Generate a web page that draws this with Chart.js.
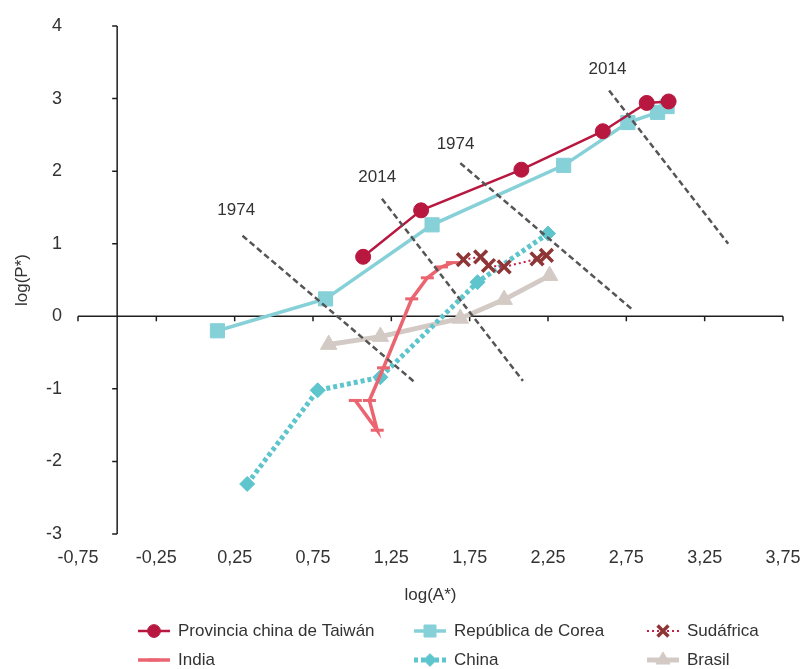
<!DOCTYPE html>
<html><head><meta charset="utf-8">
<script src="https://cdn.jsdelivr.net/npm/chart.js@4.4.1/dist/chart.umd.min.js"></script>
<style>html,body{margin:0;padding:0;background:#fff}#wrap{width:802px;height:669px}</style>
</head><body><div id="wrap"><canvas id="c" width="802" height="669"></canvas></div>
<script>
// ---- data ----
const xTickLabels = ['-0,75','-0,25','0,25','0,75','1,25','1,75','2,25','2,75','3,25','3,75'];
const yTickLabels = ['-3','-2','-1','0','1','2','3','4'];
const seriesNames = ['Provincia china de Taiwán','República de Corea','Sudáfrica','India','China','Brasil'];

const taiwanX = [1.07, 1.44, 2.08, 2.60, 2.88, 3.02];
const taiwanY = [0.82, 1.46, 2.02, 2.55, 2.94, 2.96];
const koreaX = [0.14, 0.83, 1.51, 2.35, 2.76, 2.95, 3.01];
const koreaY = [-0.20, 0.24, 1.26, 2.08, 2.67, 2.81, 2.89];
const sudafricaX = [1.71, 1.82, 1.87, 1.97, 2.18, 2.24];
const sudafricaY = [0.78, 0.82, 0.70, 0.68, 0.79, 0.84];
const indiaX = [1.02, 1.16, 1.11, 1.20, 1.38, 1.48, 1.57, 1.64];
const indiaY = [-1.16, -1.57, -1.16, -0.71, 0.24, 0.53, 0.68, 0.74];
const chinaX = [0.33, 0.78, 1.18, 1.80, 2.25];
const chinaY = [-2.31, -1.02, -0.84, 0.47, 1.14];
const brasilX = [0.85, 1.18, 1.69, 1.97, 2.26];
const brasilY = [-0.39, -0.28, -0.03, 0.23, 0.56];

const refLinesX = [[0.30, 1.40], [1.19, 2.09], [1.69, 2.79], [2.64, 3.40]];
const refLinesY = [[1.11, -0.91], [1.62, -0.89], [2.11, 0.09], [3.11, 1.00]];
const refLabels = ['1974', '2014', '1974', '2014'];
const refLabelX = [0.26, 1.16, 1.66, 2.63];
const refLabelY = [1.46, 1.92, 2.37, 3.41];

// ---- helpers ----
const FONT = "'Liberation Sans', Arial, sans-serif";
const TXT = '#333333';
const pts = (xs, ys) => xs.map((v, i) => ({x: v, y: ys[i]}));
const parseNum = s => parseFloat(s.replace(',', '.'));

const seriesDefs = [
  {name: seriesNames[0], data: pts(taiwanX, taiwanY), color: '#b8173f', pbg: '#b8173f', pbc: '#b8173f',
   width: 2.5, dash: [], style: 'circle', radius: 7.5, pbw: 1, order: 1},
  {name: seriesNames[1], data: pts(koreaX, koreaY), color: '#86d0d8', pbg: '#86d0d8', pbc: '#86d0d8',
   width: 3.5, dash: [], style: 'rect', radius: 10, pbw: 1, order: 2},
  {name: seriesNames[2], data: pts(sudafricaX, sudafricaY), color: '#c41e46', pbg: '#8e3535', pbc: '#8e3535',
   width: 2, dash: [2, 3], style: 'crossRot', radius: 9, pbw: 3.5, order: 3},
  {name: seriesNames[3], data: pts(indiaX, indiaY), color: '#ea6570', pbg: '#ea6570', pbc: '#ea6570',
   width: 3.5, dash: [], style: 'line', radius: 6.5, pbw: 3, order: 4},
  {name: seriesNames[4], data: pts(chinaX, chinaY), color: '#5ec5cd', pbg: '#5ec5cd', pbc: '#5ec5cd',
   width: 5, dash: [4, 3], style: 'rectRot', radius: 7.5, pbw: 1, order: 5},
  {name: seriesNames[5], data: pts(brasilX, brasilY), color: '#d3cac5', pbg: '#d3cac5', pbc: '#d3cac5',
   width: 5, dash: [], style: 'triangle', radius: 9.5, pbw: 1, order: 6}
];

const datasets = seriesDefs.map(s => ({
  label: s.name, data: s.data, showLine: true, tension: 0,
  borderColor: s.color, borderWidth: s.width, borderDash: s.dash, borderCapStyle: 'butt',
  pointStyle: s.style, pointRadius: s.radius, pointHoverRadius: s.radius,
  pointBackgroundColor: s.pbg, pointBorderColor: s.pbc, pointBorderWidth: s.pbw,
  order: s.order
}));
refLinesX.forEach((xs, i) => datasets.push({
  label: 'ref' + i, data: pts(xs, refLinesY[i]), showLine: true,
  borderColor: '#555555', borderWidth: 2.5, borderDash: [6, 3.5], borderCapStyle: 'butt',
  pointRadius: 0, pointHoverRadius: 0, order: 0
}));

// axis lines crossing at x=-0.5 / y=0
const axesPlugin = {
  id: 'axesLines',
  beforeDatasetsDraw(chart) {
    const {ctx, chartArea} = chart;
    const xs = chart.scales.x, ys = chart.scales.y;
    const y0 = ys.getPixelForValue(0);
    const xc = xs.getPixelForValue(-0.5);
    ctx.save();
    ctx.strokeStyle = '#1e1e1e';
    ctx.lineWidth = 1.5;
    ctx.beginPath();
    ctx.moveTo(chartArea.left, y0); ctx.lineTo(chartArea.right, y0);
    xs.ticks.forEach(t => { const p = xs.getPixelForValue(t.value); ctx.moveTo(p, y0); ctx.lineTo(p, y0 + 5); });
    ctx.moveTo(xc, chartArea.top); ctx.lineTo(xc, chartArea.bottom);
    ys.ticks.forEach(t => { const p = ys.getPixelForValue(t.value); ctx.moveTo(xc - 5, p); ctx.lineTo(xc, p); });
    ctx.stroke();
    ctx.restore();
  }
};

// year labels on the dashed lines
const labelPlugin = {
  id: 'yearLabels',
  afterDatasetsDraw(chart) {
    const {ctx} = chart;
    const xs = chart.scales.x, ys = chart.scales.y;
    ctx.save();
    ctx.font = '17px ' + FONT;
    ctx.fillStyle = TXT;
    ctx.textAlign = 'center';
    ctx.textBaseline = 'middle';
    refLabels.forEach((t, i) => ctx.fillText(t, xs.getPixelForValue(refLabelX[i]), ys.getPixelForValue(refLabelY[i])));
    ctx.restore();
  }
};

// three-column legend below the chart
const legendPlugin = {
  id: 'colLegend',
  afterDraw(chart) {
    const {ctx} = chart;
    const colX = [138, 414, 647];
    const rowY = [631, 660];
    const mw = 32;
    ctx.save();
    seriesDefs.forEach((s, i) => {
      const mx = colX[i % 3], my = rowY[Math.floor(i / 3)];
      ctx.beginPath();
      ctx.setLineDash(s.dash);
      ctx.lineCap = 'butt';
      ctx.strokeStyle = s.color;
      ctx.lineWidth = s.width;
      ctx.moveTo(mx, my); ctx.lineTo(mx + mw, my);
      ctx.stroke();
      ctx.setLineDash([]);
      ctx.fillStyle = s.pbg;
      ctx.strokeStyle = s.pbc;
      ctx.lineWidth = s.pbw;
      const opts = {pointStyle: s.style, radius: s.radius * 0.85, borderWidth: s.pbw, rotation: 0};
      if (Chart.helpers && Chart.helpers.drawPoint) {
        Chart.helpers.drawPoint(ctx, opts, mx + mw / 2, my);
      }
      ctx.fillStyle = TXT;
      ctx.font = '17px ' + FONT;
      ctx.textAlign = 'left';
      ctx.textBaseline = 'middle';
      ctx.fillText(s.name, mx + mw + 8, my);
    });
    ctx.restore();
  }
};

new Chart(document.getElementById('c'), {
  type: 'scatter',
  data: {datasets},
  options: {
    responsive: false,
    animation: false,
    devicePixelRatio: 1,
    layout: {padding: {top: 26, right: 19, left: 0, bottom: 0}},
    plugins: {legend: {display: false}, tooltip: {enabled: false}},
    scales: {
      x: {
        type: 'linear', min: -0.75, max: 3.75,
        grid: {display: false, drawTicks: false},
        border: {display: false},
        afterBuildTicks: s => { s.ticks = xTickLabels.map(l => ({value: parseNum(l)})); },
        afterFit: s => { s.height = 135; s.paddingLeft = 0; s.paddingRight = 0; },
        ticks: {padding: 13, autoSkip: false, maxRotation: 0, color: TXT,
                font: {family: FONT, size: 18}, callback: (v, i) => xTickLabels[i]},
        title: {display: true, text: 'log(A*)', color: TXT, font: {family: FONT, size: 17},
                padding: {top: 0, bottom: 63}}
      },
      y: {
        type: 'linear', min: -3, max: 4,
        grid: {display: false, drawTicks: false},
        border: {display: false},
        afterBuildTicks: s => { s.ticks = yTickLabels.map(l => ({value: parseNum(l)})); },
        afterFit: s => { s.width = 78; s.paddingTop = 0; s.paddingBottom = 0; },
        ticks: {padding: 16, color: TXT, font: {family: FONT, size: 18}, callback: (v, i) => yTickLabels[i]},
        title: {display: true, text: 'log(P*)', color: TXT, font: {family: FONT, size: 17},
                padding: {top: 12, bottom: 0}}
      }
    }
  },
  plugins: [axesPlugin, labelPlugin, legendPlugin]
});
</script>
</body></html>
